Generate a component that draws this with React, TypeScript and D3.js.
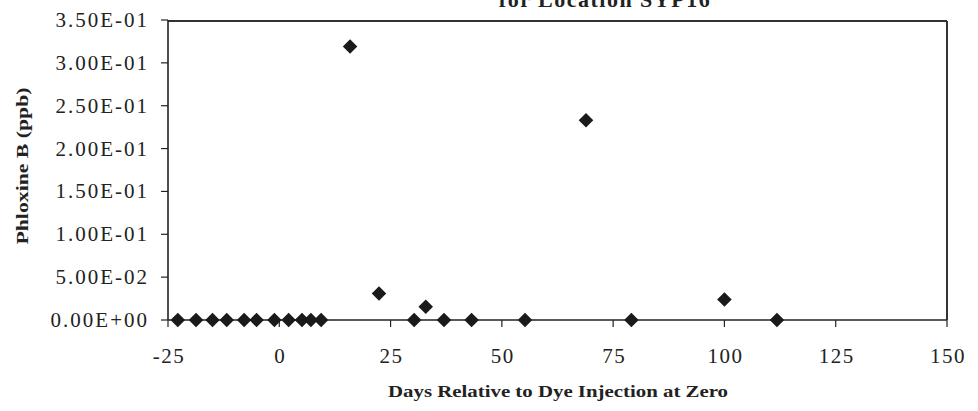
import React from "react";
import * as d3 from "d3";

const days: number[] = [-22.8, -18.7, -15.0, -11.8, -7.9, -5.1, -1.1, 2.1, 5.1, 7.1, 9.4, 15.9, 22.4, 30.3, 32.9, 37.0, 43.2, 55.2, 68.9, 79.1, 100.0, 111.8];
const phloxine: number[] = [0, 0, 0, 0, 0, 0, 0, 0, 0, 0, 0, 0.319, 0.031, 0, 0.0155, 0, 0, 0, 0.233, 0, 0.024, 0];
const xTicks: number[] = [-25, 0, 25, 50, 75, 100, 125, 150];
const yTicks: number[] = [0, 0.05, 0.1, 0.15, 0.2, 0.25, 0.3, 0.35];
const yTickLabels: string[] = ["0.00E+00", "5.00E-02", "1.00E-01", "1.50E-01", "2.00E-01", "2.50E-01", "3.00E-01", "3.50E-01"];
const title = "for Location SYP16";
const xTitle = "Days Relative to Dye Injection at Zero";
const yTitle = "Phloxine B (ppb)";

export default function App() {
  const W = 978, H = 411;
  const left = 168, right = 947, top = 20, bottom = 320;
  const x = d3.scaleLinear().domain([-25, 150]).range([left, right]);
  const y = d3.scaleLinear().domain([0, 0.35]).range([bottom, top]);
  const diamond = d3.symbol().type(d3.symbolDiamond2).size(135)();
  const serif = "'Liberation Serif', 'Times New Roman', serif";
  const ink = "#222";
  return (
    <svg width={W} height={H} style={{ position: "absolute", left: 0, top: 0, background: "#fff" }} fontFamily={serif}>
      <rect x={0} y={0} width={W} height={H} fill="#fff" />
      <text x={605} y={7} textAnchor="middle" fontSize={22} fontWeight="bold" letterSpacing={1.5} fill={ink}>{title}</text>
      {/* frame */}
      <line x1={left} x2={right} y1={top + 1} y2={top + 1} stroke="#333" strokeWidth={2} />
      <line x1={right} x2={right} y1={top + 1} y2={bottom} stroke="#333" strokeWidth={2} />
      <line x1={left} x2={left} y1={top} y2={bottom} stroke={ink} strokeWidth={1.6} />
      <line x1={left} x2={right} y1={bottom} y2={bottom} stroke={ink} strokeWidth={1.6} />
      {yTicks.map((t, i) => (
        <g key={"y" + i}>
          <line x1={left - 7} x2={left} y1={y(t)} y2={y(t)} stroke={ink} strokeWidth={1.2} />
          <text x={149} y={y(t) + 7} textAnchor="end" fontSize={21} letterSpacing={2} fill={ink}>{yTickLabels[i]}</text>
        </g>
      ))}
      {xTicks.map((t, i) => (
        <g key={"x" + i}>
          <line x1={x(t)} x2={x(t)} y1={bottom} y2={bottom + 7} stroke={ink} strokeWidth={1.2} />
          <text x={x(t) + 1} y={363} textAnchor="middle" fontSize={21} letterSpacing={1.5} fill={ink}>{t}</text>
        </g>
      ))}
      {days.map((d, i) => (
        <path key={"p" + i} d={diamond} transform={`translate(${x(d)},${y(phloxine[i])})`} fill="#1a1a1a" />
      ))}
      <text x={558} y={397} textAnchor="middle" fontSize={17} fontWeight="bold" textLength={340} lengthAdjust="spacingAndGlyphs" fill={ink}>{xTitle}</text>
      <text transform={`translate(28,166) rotate(-90)`} textAnchor="middle" fontSize={17} fontWeight="bold" textLength={157} lengthAdjust="spacingAndGlyphs" fill={ink}>{yTitle}</text>
    </svg>
  );
}
